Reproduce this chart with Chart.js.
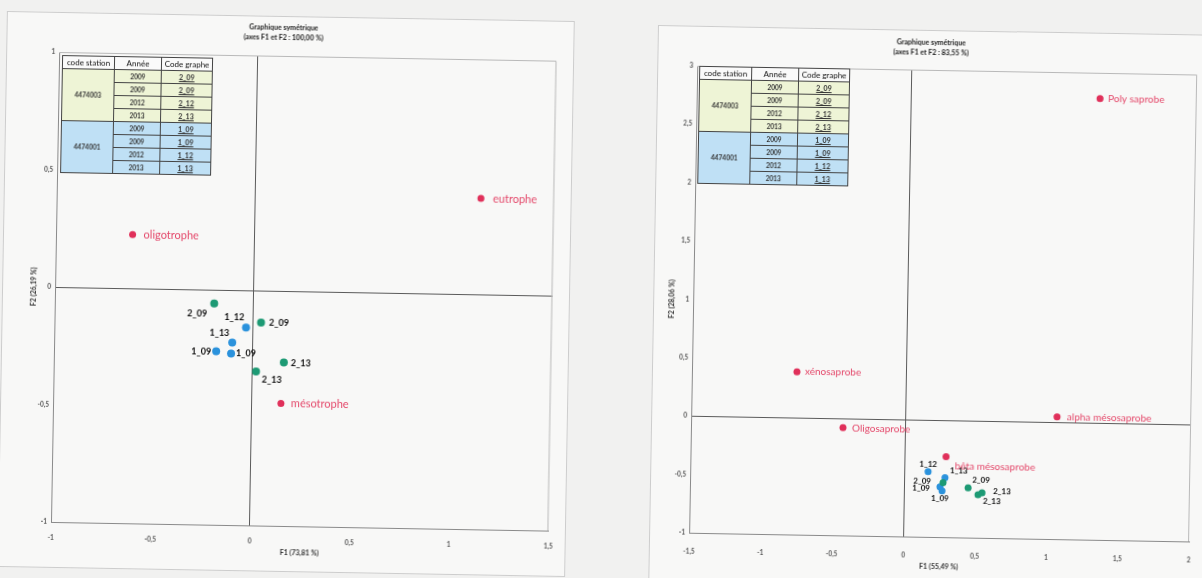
<!DOCTYPE html>
<html lang="fr">
<head>
<meta charset="utf-8">
<title>Graphique symétrique</title>
<script src="https://cdn.jsdelivr.net/npm/chart.js@4.4.1/dist/chart.umd.min.js"></script>
<style>
  html, body { margin: 0; padding: 0; }
  body { width: 1202px; height: 578px; overflow: hidden; position: relative; background: #f1f1f0; font-family: Lato, "Liberation Sans", sans-serif; }
  /* the scanned page is slightly tilted */
  .panel { position: absolute; background: #f8f8f7; border: 1px solid #cdcdcd; box-sizing: border-box; overflow: hidden; transform: rotate(1deg); }
  .panel canvas { position: absolute; }
  table.codes { position: absolute; border-collapse: collapse; table-layout: fixed; border: 1.5px solid #222; font-size: 6.5px; font-weight: bold; color: #333; }
  table.codes th, table.codes td { border: 1px solid #444; height: 12px; padding: 0; text-align: center; line-height: 11px; white-space: nowrap; overflow: visible; }
  table.codes th { background: #fafafa; font-weight: normal; font-size: 8px; color: #111; }
  table.codes tr.s0 td { background: #eef4d6; }
  table.codes tr.s1 td { background: #bfe0f5; }
  table.codes td.cg { text-decoration: underline; font-size: 7px; }
</style>
</head>
<body>

<div class="panel" id="leftPanel" style="left:2px; top:15.5px; width:568px; height:556px;">
  <canvas id="leftChart" width="566" height="554" style="left:0; top:0;"></canvas>
  <table class="codes" id="leftTable" style="left:55px; top:42px; width:150px;"></table>
</div>

<div class="panel" id="rightPanel" style="left:653px; top:30.3px; width:566px; height:566px;">
  <canvas id="rightChart" width="558" height="550" style="left:6px; top:6px;"></canvas>
  <table class="codes" id="rightTable" style="left:41px; top:39px; width:150px;"></table>
</div>

<script>
// Table (same on both charts)
const stationCodes = ['4474003', '4474001'];
const tableYears = ['2009', '2009', '2012', '2013'];
const graphCodes = [['2_09', '2_09', '2_12', '2_13'], ['1_09', '1_09', '1_12', '1_13']];

// Left chart: trophic classes
const leftTitle = ['Graphique symétrique', '(axes F1 et F2 : 100,00 %)'];
const leftAxisX = 'F1 (73,81 %)';
const leftAxisY = 'F2 (26,19 %)';
const leftXTicks = [-1, -0.5, 0, 0.5, 1, 1.5];
const leftYTicks = [-1, -0.5, 0, 0.5, 1];

const leftGreenCodes = ['2_09', '2_09', '2_13', '2_13'];
const leftGreenX = [-0.199, 0.038, 0.156, 0.017];
const leftGreenY = [-0.058, -0.136, -0.304, -0.345];

const leftBlueCodes = ['1_12', '1_13', '1_09', '1_09'];
const leftBlueX = [-0.037, -0.105, -0.185, -0.11];
const leftBlueY = [-0.158, -0.223, -0.262, -0.27];

const leftClasses = ['eutrophe', 'oligotrophe', 'mésotrophe'];
const leftClassX = [1.132, -0.615, 0.145];
const leftClassY = [0.408, 0.229, -0.479];

// Right chart: saprobic classes
const rightTitle = ['Graphique symétrique', '(axes F1 et F2 : 83,55 %)'];
const rightAxisX = 'F1 (55,49 %)';
const rightAxisY = 'F2 (28,06 %)';
const rightXTicks = [-1.5, -1, -0.5, 0, 0.5, 1, 1.5, 2];
const rightYTicks = [-1, -0.5, 0, 0.5, 1, 1.5, 2, 2.5, 3];

const rightGreenCodes = ['2_09', '2_09', '2_13', '2_13'];
const rightGreenX = [0.271, 0.447, 0.517, 0.545];
const rightGreenY = [-0.534, -0.573, -0.632, -0.614];

const rightBlueCodes = ['1_12', '1_13', '1_09', '1_09'];
const rightBlueX = [0.165, 0.284, 0.25, 0.265];
const rightBlueY = [-0.442, -0.491, -0.569, -0.603];

const rightClasses = ['Poly saprobe', 'xénosaprobe', 'alpha mésosaprobe', 'Oligosaprobe', 'bêta mésosaprobe'];
const rightClassX = [1.323, -0.765, 1.061, -0.436, 0.289];
const rightClassY = [2.779, 0.395, 0.048, -0.078, -0.311];

// label offsets (dx, dy, align) - kept apart from the values
const leftGreenLabelPos = [[-7, 10, 'right'], [8, 0, 'left'], [7, 1, 'left'], [6, 8, 'left']];
const leftBlueLabelPos = [[-2, -10, 'right'], [-3, -9, 'right'], [-5, 1, 'right'], [5, 0, 'left']];
const leftClassLabelPos = [[12, 0, 'left'], [11, 0, 'left'], [10, 0, 'left']];

const rightGreenLabelPos = [[-12, -1, 'right'], [4, -8, 'left'], [15, -4, 'left'], [1, 8, 'left']];
const rightBlueLabelPos = [[0, -7, 'center'], [5, -7, 'left'], [-10, 2, 'right'], [-2, 8, 'center']];
const rightClassLabelPos = [[8, 0, 'left'], [8, 0, 'left'], [10, 0, 'left'], [9, 0, 'left'], [9, 9, 'left']];

const GREEN = '#1d9a74';
const BLUE = '#2b92dc';
const RED = '#e0305a';
const RED_TEXT = '#e4486a';

function buildTable(el) {
    var html = '<colgroup><col style="width:52px"><col style="width:47px"><col style="width:51px"></colgroup>';
    html += '<tr><th>code station</th><th>Année</th><th>Code graphe</th></tr>';
    stationCodes.forEach(function(st, i) {
        tableYears.forEach(function(yr, j) {
            html += '<tr class="s' + i + '">';
            if (j === 0) {
                html += '<td rowspan="4">' + st + '</td>';
            }
            html += '<td>' + yr + '</td><td class="cg">' + graphCodes[i][j] + '</td></tr>';
        });
    });
    el.innerHTML = html;
}

function points(xs, ys) {
    return xs.map(function(x, i) { return { x: x, y: ys[i] }; });
}

function decimal(v) {
    return String(v).replace('.', ',');
}

// draws the text next to each point
const pointLabels = {
    id: 'pointLabels',
    afterDatasetsDraw: function(chart) {
        var ctx = chart.ctx;
        chart.data.datasets.forEach(function(ds, i) {
            var meta = chart.getDatasetMeta(i);
            meta.data.forEach(function(pt, j) {
                var pos = ds.labelPos[j];
                ctx.save();
                ctx.font = ds.labelFont;
                ctx.fillStyle = ds.labelColor;
                ctx.textAlign = pos[2];
                ctx.textBaseline = 'middle';
                ctx.fillText(ds.labelText[j], pt.x + pos[0], pt.y + pos[1]);
                ctx.restore();
            });
        });
    }
};

// light frame on top and right of the plot area
const plotFrame = {
    id: 'plotFrame',
    beforeDatasetsDraw: function(chart) {
        var a = chart.chartArea;
        var ctx = chart.ctx;
        ctx.save();
        ctx.strokeStyle = '#b9b9b9';
        ctx.lineWidth = 1;
        ctx.beginPath();
        ctx.moveTo(a.left, a.top + 0.5);
        ctx.lineTo(a.right - 0.5, a.top + 0.5);
        ctx.lineTo(a.right - 0.5, a.bottom);
        ctx.stroke();
        ctx.restore();
    }
};

function makeChart(id, o) {
    var tickFont = { family: 'Lato', size: 6.5, weight: 'bold' };
    var axisTitleFont = { family: 'Lato', size: 7, weight: 'bold' };
    var zeroGrid = {
        drawTicks: false,
        color: function(c) { return c.tick && c.tick.value === 0 ? '#5a5a5a' : 'rgba(0,0,0,0)'; }
    };
    return new Chart(document.getElementById(id), {
        type: 'scatter',
        data: {
            datasets: [
                {
                    data: points(o.greenX, o.greenY),
                    backgroundColor: GREEN, pointRadius: o.radius, pointBorderWidth: 0,
                    labelText: o.greenCodes, labelPos: o.greenPos, labelFont: o.codeFont, labelColor: '#111'
                },
                {
                    data: points(o.blueX, o.blueY),
                    backgroundColor: BLUE, pointRadius: o.radius, pointBorderWidth: 0,
                    labelText: o.blueCodes, labelPos: o.bluePos, labelFont: o.codeFont, labelColor: '#111'
                },
                {
                    data: points(o.classX, o.classY),
                    backgroundColor: RED, pointRadius: 3.5, pointBorderWidth: 0,
                    labelText: o.classes, labelPos: o.classPos, labelFont: o.classFont, labelColor: RED_TEXT
                }
            ]
        },
        options: {
            responsive: false,
            animation: false,
            devicePixelRatio: 1,
            layout: { padding: { left: 0, right: o.padRight, top: 0, bottom: 0 } },
            plugins: {
                legend: { display: false },
                tooltip: { enabled: false },
                title: {
                    display: true,
                    text: o.title,
                    color: '#222',
                    font: { family: 'Lato', size: 7, weight: 'bold', lineHeight: 1.5 },
                    padding: { top: o.titleTop, bottom: o.titleBottom }
                }
            },
            scales: {
                x: {
                    type: 'linear',
                    min: o.xTicks[0],
                    max: o.xTicks[o.xTicks.length - 1],
                    afterFit: function(s) { s.height = o.xHeight; },
                    ticks: { stepSize: o.xTicks[1] - o.xTicks[0], padding: o.xTickPad, color: '#555', font: tickFont, callback: decimal },
                    grid: zeroGrid,
                    border: { color: '#8a8a8a' },
                    title: { display: true, text: o.axisX, color: '#333', font: axisTitleFont, padding: { top: 0, bottom: o.xTitlePad } }
                },
                y: {
                    type: 'linear',
                    min: o.yTicks[0],
                    max: o.yTicks[o.yTicks.length - 1],
                    afterFit: function(s) { s.width = o.yWidth; },
                    ticks: { stepSize: o.yTicks[1] - o.yTicks[0], padding: 4, color: '#555', font: tickFont, callback: decimal },
                    grid: zeroGrid,
                    border: { color: '#8a8a8a' },
                    title: { display: true, text: o.axisY, color: '#333', font: axisTitleFont, padding: { top: o.yTitlePad, bottom: 0 } }
                }
            }
        },
        plugins: [plotFrame, pointLabels]
    });
}

buildTable(document.getElementById('leftTable'));
buildTable(document.getElementById('rightTable'));

makeChart('leftChart', {
    title: leftTitle, axisX: leftAxisX, axisY: leftAxisY,
    xTicks: leftXTicks, yTicks: leftYTicks,
    greenX: leftGreenX, greenY: leftGreenY, greenCodes: leftGreenCodes, greenPos: leftGreenLabelPos,
    blueX: leftBlueX, blueY: leftBlueY, blueCodes: leftBlueCodes, bluePos: leftBlueLabelPos,
    classX: leftClassX, classY: leftClassY, classes: leftClasses, classPos: leftClassLabelPos,
    radius: 4, codeFont: 'bold 9px Lato', classFont: '11px Lato',
    padRight: 14, titleTop: 5, titleBottom: 13, xHeight: 45, yWidth: 52,
    xTickPad: 12, xTitlePad: 14, yTitlePad: 27
});

makeChart('rightChart', {
    title: rightTitle, axisX: rightAxisX, axisY: rightAxisY,
    xTicks: rightXTicks, yTicks: rightYTicks,
    greenX: rightGreenX, greenY: rightGreenY, greenCodes: rightGreenCodes, greenPos: rightGreenLabelPos,
    blueX: rightBlueX, blueY: rightBlueY, blueCodes: rightBlueCodes, bluePos: rightBlueLabelPos,
    classX: rightClassX, classY: rightClassY, classes: rightClasses, classPos: rightClassLabelPos,
    radius: 3.5, codeFont: 'bold 8px Lato', classFont: '10px Lato',
    padRight: 25, titleTop: 0, titleBottom: 12, xHeight: 50, yWidth: 33,
    xTickPad: 15, xTitlePad: 16, yTitlePad: 8
});
</script>
</body>
</html>
